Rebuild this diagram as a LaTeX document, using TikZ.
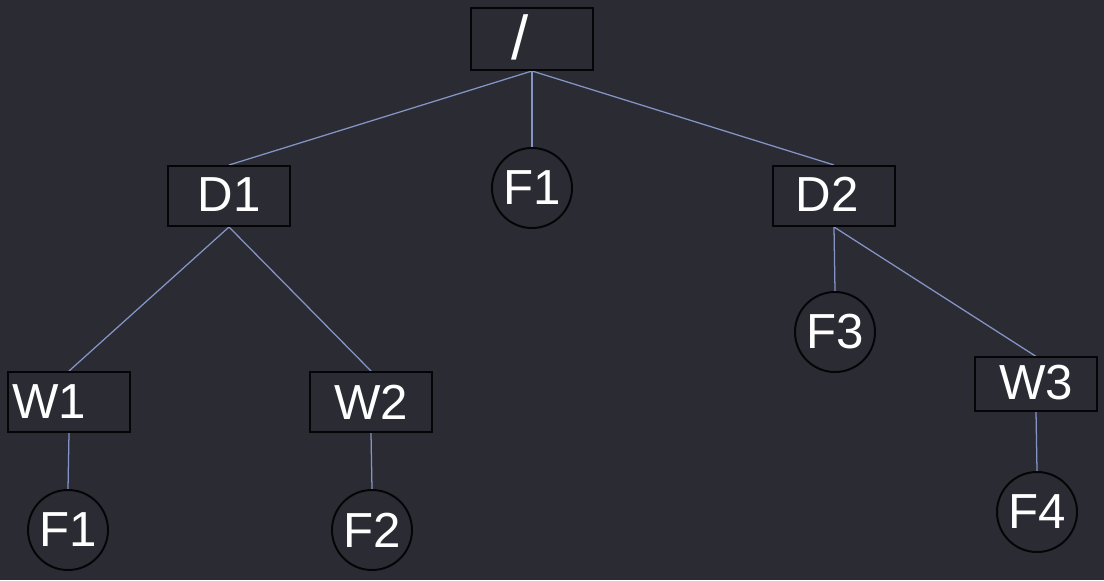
\documentclass[tikz,border=0pt]{standalone}
\usepackage{fontspec}
\setmainfont{Liberation Sans}
\usepackage{xcolor}
\usepackage{tikz}
\usetikzlibrary{positioning, calc, backgrounds}
\definecolor{fsbg}{HTML}{2B2B33}
\definecolor{fsedge}{HTML}{8494C4}
\definecolor{fsline}{HTML}{050507}

\begin{document}
\begin{tikzpicture}[
  x=0.025cm, y=-0.025cm,
  dirbox/.style={rectangle, draw=fsline, line width=1.4pt, fill=fsbg, text=white, minimum width=3.03cm, minimum height=1.5cm, inner sep=0.1cm, font=\fontsize{35}{40}\selectfont},
  filenode/.style={circle, draw=fsline, line width=1.4pt, fill=fsbg, text=white, minimum size=2cm, inner sep=0pt, font=\fontsize{35}{40}\selectfont},
  link/.style={draw=fsedge, line width=0.9pt}
]
  % Canvas
  \useasboundingbox (0,0) rectangle (1104,580);

  % Root
  \node[dirbox, minimum height=1.55cm] (root) at (532,39) {\hspace*{-0.6cm}\raisebox{3pt}{\fontsize{44}{48}\selectfont/}};

  % Level one
  \node[dirbox] (d1) at (229,196) {\raisebox{2pt}{D1}};
  \node[filenode] (f1top) at (532,188) {F1};
  \node[dirbox] (d2) at (834,196) {\hspace*{-0.35cm}\raisebox{2pt}{D2}};

  % Level two
  \node[dirbox, text width=2.83cm, align=left] (w1) at (69,402) {W1};
  \node[dirbox] (w2) at (371,402) {W2};
  \node[filenode] (f3) at (835,332) {F3};
  \node[dirbox, minimum height=1.33cm] (w3) at (1036,384) {\raisebox{3pt}{W3}};

  % Leaves
  \node[filenode] (f1) at (68,530) {F1};
  \node[filenode] (f2) at (372,530) {F2};
  \node[filenode] (f4) at (1037,512) {F4};

  % Connectors
  \begin{scope}[on background layer]
    \fill[fsbg] (0,0) rectangle (1104,580);
    \draw[link] (root.south) -- (d1.north);
    \draw[link] (root.south) -- (f1top.north);
    \draw[link] (root.south) -- (d2.north);
    \draw[link] (d1.south) -- (w1.north);
    \draw[link] (d1.south) -- (w2.north);
    \draw[link] (w1.south) -- (f1.north);
    \draw[link] (w2.south) -- (f2.north);
    \draw[link] (d2.south) -- (f3.north);
    \draw[link] (d2.south) -- (w3.north);
    \draw[link] (w3.south) -- (f4.north);
  \end{scope}
\end{tikzpicture}
\end{document}
